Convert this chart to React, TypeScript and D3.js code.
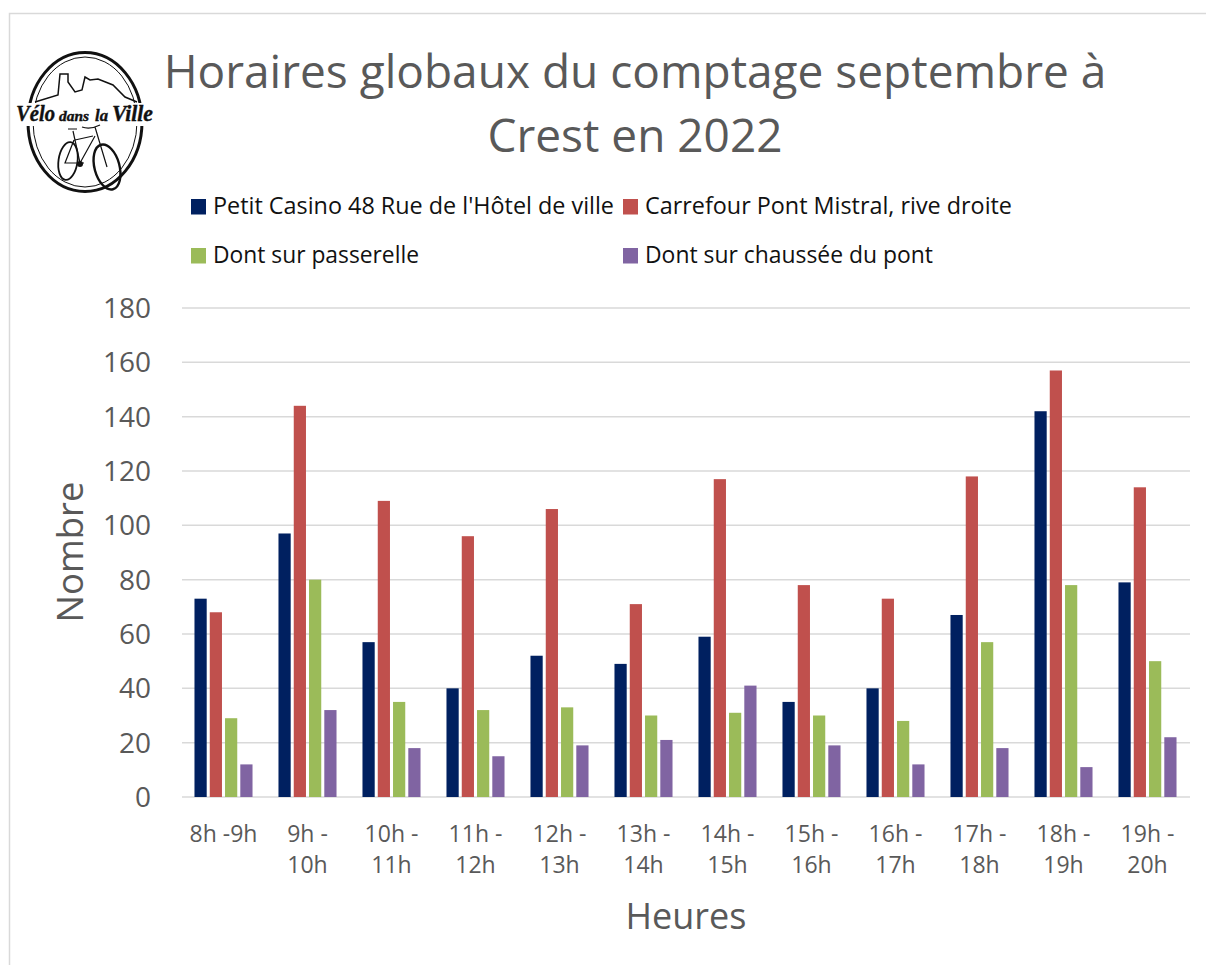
import { useEffect, useRef } from 'react';
import * as d3 from 'd3';

const categories = ['8h -9h', '9h - 10h', '10h - 11h', '11h - 12h', '12h - 13h', '13h - 14h', '14h - 15h', '15h - 16h', '16h - 17h', '17h - 18h', '18h - 19h', '19h - 20h'];
const tickLines = [['8h -9h'], ['9h -', '10h'], ['10h -', '11h'], ['11h -', '12h'], ['12h -', '13h'], ['13h -', '14h'], ['14h -', '15h'], ['15h -', '16h'], ['16h -', '17h'], ['17h -', '18h'], ['18h -', '19h'], ['19h -', '20h']];

const seriesNames = ["Petit Casino 48 Rue de l'Hôtel de ville", 'Carrefour Pont Mistral, rive droite', 'Dont sur passerelle', 'Dont sur chaussée du pont'];
const seriesColors = ['#002060', '#c0504d', '#9bbb59', '#8064a2'];

const petitCasino = [73, 97, 57, 40, 52, 49, 59, 35, 40, 67, 142, 79];
const carrefour = [68, 144, 109, 96, 106, 71, 117, 78, 73, 118, 157, 114];
const passerelle = [29, 80, 35, 32, 33, 30, 31, 30, 28, 57, 78, 50];
const chaussee = [12, 32, 18, 15, 19, 21, 41, 19, 12, 18, 11, 22];
const seriesValues = [petitCasino, carrefour, passerelle, chaussee];

const yTicks = [0, 20, 40, 60, 80, 100, 120, 140, 160, 180];

const FONT = '"Open Sans", sans-serif';

const App = () => {
  const svgRef = useRef<SVGSVGElement>(null);

  useEffect(() => {
    const svg = d3.select(svgRef.current);
    svg.selectAll('*').remove();

    const width = 1206;
    const height = 965;
    const margin = { top: 308, right: 16, bottom: 168, left: 182 };

    // chart frame, only top and left are visible
    svg.append('path')
      .attr('d', `M9.5,${height} V13.5 H${width}`)
      .attr('fill', 'none')
      .attr('stroke', '#d9d9d9')
      .attr('stroke-width', 1.5);

    // scales
    const x0 = d3.scaleBand<number>()
      .domain(d3.range(categories.length))
      .range([margin.left - 0.5, width - margin.right - 0.5]);

    const x1 = d3.scaleBand<number>()
      .domain(d3.range(seriesNames.length))
      .range([0, x0.bandwidth()])
      .paddingInner(0.2)
      .paddingOuter(0.85);

    const y = d3.scaleLinear()
      .domain([0, 180])
      .range([height - margin.bottom, margin.top]);

    // grid
    svg.append('g')
      .selectAll('line')
      .data(yTicks)
      .enter()
      .append('line')
      .attr('x1', margin.left)
      .attr('x2', width - margin.right)
      .attr('y1', d => y(d))
      .attr('y2', d => y(d))
      .attr('stroke', '#d9d9d9')
      .attr('stroke-width', 1.5);

    // y labels
    svg.append('g')
      .selectAll('text')
      .data(yTicks)
      .enter()
      .append('text')
      .attr('x', 151)
      .attr('y', d => y(d) + 10)
      .attr('text-anchor', 'end')
      .attr('font-size', 28)
      .attr('fill', '#595959')
      .text(d => d);

    // bars
    seriesValues.forEach((values, s) => {
      svg.append('g')
        .selectAll('rect')
        .data(values)
        .enter()
        .append('rect')
        .attr('x', (d, i) => (x0(i) as number) + (x1(s) as number))
        .attr('y', d => y(d))
        .attr('width', x1.bandwidth())
        .attr('height', d => y(0) - y(d))
        .attr('fill', seriesColors[s]);
    });

    // x labels
    tickLines.forEach((lines, i) => {
      const cx = (x0(i) as number) + x0.bandwidth() / 2;
      lines.forEach((line, k) => {
        svg.append('text')
          .attr('x', cx)
          .attr('y', 842 + k * 31)
          .attr('text-anchor', 'middle')
          .attr('font-size', 23)
          .attr('fill', '#595959')
          .text(line);
      });
    });

    // axis titles
    svg.append('text')
      .attr('x', 686)
      .attr('y', 929)
      .attr('text-anchor', 'middle')
      .attr('font-size', 36)
      .attr('fill', '#595959')
      .text('Heures');

    svg.append('text')
      .attr('transform', 'translate(83,552) rotate(-90)')
      .attr('text-anchor', 'middle')
      .attr('font-size', 36.5)
      .attr('fill', '#595959')
      .text('Nombre');

    // title
    ['Horaires globaux du comptage septembre à', 'Crest en 2022'].forEach((line, i) => {
      svg.append('text')
        .attr('x', 635)
        .attr('y', 88 + i * 64)
        .attr('text-anchor', 'middle')
        .attr('font-size', 46)
        .attr('fill', '#595959')
        .text(line);
    });

    // legend
    const legendX = [190, 622, 190, 622];
    const legendY = [206, 206, 255, 255];
    const legendLen = [401, 367, 206, 288];
    seriesNames.forEach((name, i) => {
      svg.append('rect')
        .attr('x', legendX[i] + 1)
        .attr('y', legendY[i] - 7)
        .attr('width', 15)
        .attr('height', 15.5)
        .attr('fill', seriesColors[i]);
      svg.append('text')
        .attr('x', legendX[i] + 23)
        .attr('y', legendY[i] + 8)
        .attr('font-size', 23)
        .attr('textLength', legendLen[i])
        .attr('lengthAdjust', 'spacingAndGlyphs')
        .attr('fill', '#111')
        .text(name);
    });

    // logo
    const logo = svg.append('g').attr('fill', 'none').attr('stroke', '#111');
    logo.append('ellipse').attr('cx', 85).attr('cy', 122).attr('rx', 57).attr('ry', 69.5).attr('stroke-width', 3);
    logo.append('ellipse').attr('cx', 85).attr('cy', 122).attr('rx', 52).attr('ry', 65).attr('stroke-width', 1);
    logo.append('rect').attr('x', 15).attr('y', 103).attr('width', 140).attr('height', 23).attr('fill', '#fff').attr('stroke', 'none');
    logo.append('path')
      .attr('d', 'M35,102 L58,95 L60,74 H68 V82 L75,92 L82,90 L85,77 L90,80 L98,79 L113,85 L125,97 L137,102')
      .attr('stroke-width', 1.5);

    const logoWords = ['Vélo', 'dans', 'la', 'Ville'];
    const logoWordX = [16, 59, 95, 112];
    const logoWordLen = [39, 30, 13, 41];
    const logoWordSize = [23, 15, 17, 23];
    logoWords.forEach((word, i) => {
      logo.append('text')
        .attr('x', logoWordX[i])
        .attr('y', 121)
        .attr('font-family', '"Liberation Serif", serif')
        .attr('font-style', 'italic')
        .attr('font-weight', 700)
        .attr('font-size', logoWordSize[i])
        .attr('textLength', logoWordLen[i])
        .attr('lengthAdjust', 'spacingAndGlyphs')
        .attr('fill', '#111')
        .attr('stroke', '#111')
        .attr('stroke-width', 0.4)
        .text(word);
    });

    // bicycle
    logo.append('ellipse').attr('cx', 68).attr('cy', 161).attr('rx', 9.5).attr('ry', 19).attr('transform', 'rotate(8 68 161)').attr('stroke-width', 1.8);
    logo.append('ellipse').attr('cx', 107).attr('cy', 167).attr('rx', 12.5).attr('ry', 23).attr('transform', 'rotate(-15 107 167)').attr('stroke-width', 2.4);
    logo.append('path')
      .attr('d', 'M73,131 L80,163 M68,129 H77 M75,140 L93,136 M95,136 L80,163 M74,140 L65,163 H84 M82,127 Q90,130 100,125 M95,127 L107,167')
      .attr('stroke-width', 1.2);
    logo.append('circle').attr('cx', 80).attr('cy', 164).attr('r', 3).attr('fill', '#111').attr('stroke', 'none');
  }, []);

  return (
    <svg
      ref={svgRef}
      width={1206}
      height={965}
      style={{ position: 'absolute', left: 0, top: 0, fontFamily: FONT, background: '#fff' }}
    />
  );
};

export default App;
